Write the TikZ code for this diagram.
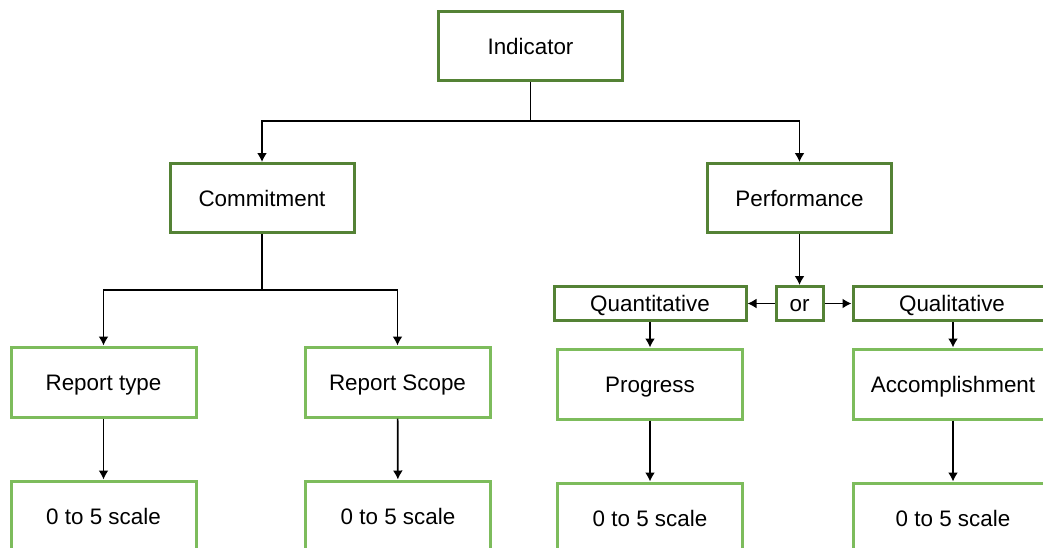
\documentclass[tikz,border=0pt]{standalone}
\usepackage{fontspec}
\setmainfont{Liberation Sans}
\usetikzlibrary{positioning,arrows.meta}
\definecolor{darkgreen}{HTML}{548235}
\definecolor{lightgreen}{HTML}{7DBC5C}
\tikzset{>={Latex[length=4.5pt,width=5pt]}}

\begin{document}
\begin{tikzpicture}[x=0.5pt, y=-0.5pt, align=center,
    font=\fontsize{11.2}{13}\selectfont, text height=8pt, text depth=0pt,
    top/.style={rectangle, draw=darkgreen, line width=1.5pt, fill=white, minimum width=92pt, minimum height=34.5pt},
    sub/.style={rectangle, draw=lightgreen, line width=1.5pt, fill=white, minimum width=92.5pt, minimum height=35pt},
    kind/.style={rectangle, draw=darkgreen, line width=1.5pt, fill=white, minimum height=17pt, inner sep=1pt},
    link/.style={draw, line width=0.85pt}]
    \useasboundingbox (0,0) rectangle (1043,547);
    \clip (0,0) rectangle (1043,547);

    \node [top] (ind) at (530.5,46) {Indicator};
    \node [top] (com) at (262,198) {Commitment};
    \node [top] (perf) at (799.5,198) {Performance};

    \node [sub] (rtype) at (103.5,382) {Report type};
    \node [sub] (rscope) at (397.5,382) {Report Scope};
    \node [sub] (scale1) at (103.5,516) {0 to 5 scale};
    \node [sub] (scale2) at (398,516) {0 to 5 scale};

    \node [kind, minimum width=96pt] (quant) at (650,303.5) {Quantitative};
    \node [kind, minimum width=23.5pt] (or) at (799.5,303.5) {or};
    \node [kind, minimum width=99pt] (qual) at (952,303.5) {Qualitative};

    \node [sub] (prog) at (650,384) {Progress};
    \node [sub, minimum width=100pt] (acc) at (953,384) {Accomplishment};
    \node [sub] (scale3) at (650,518) {0 to 5 scale};
    \node [sub, minimum width=100pt] (scale4) at (953,518) {0 to 5 scale};

    \coordinate (split1) at (530.5,121);
    \coordinate (split2) at (262,290);

    \draw [link] (ind.south) -- (split1);
    \draw [link,->] (split1) -| (com.north);
    \draw [link,->] (split1) -| (perf.north);

    \draw [link] (com.south) -- (split2);
    \draw [link,->] (split2) -| (rtype.north);
    \draw [link,->] (split2) -| (rscope.north);

    \path [link,->] (rtype) edge (scale1);
    \path [link,->] (rscope) edge (scale2);

    \path [link,->] (perf) edge (or);
    \path [link,->] (or) edge (quant);
    \path [link,->] (or) edge (qual);

    \draw [link,->] (quant.south) -- (prog.north);
    \draw [link,->] (qual.south -| acc.north) -- (acc.north);
    \path [link,->] (prog) edge (scale3);
    \path [link,->] (acc) edge (scale4);

    \end{tikzpicture}
\end{document}
